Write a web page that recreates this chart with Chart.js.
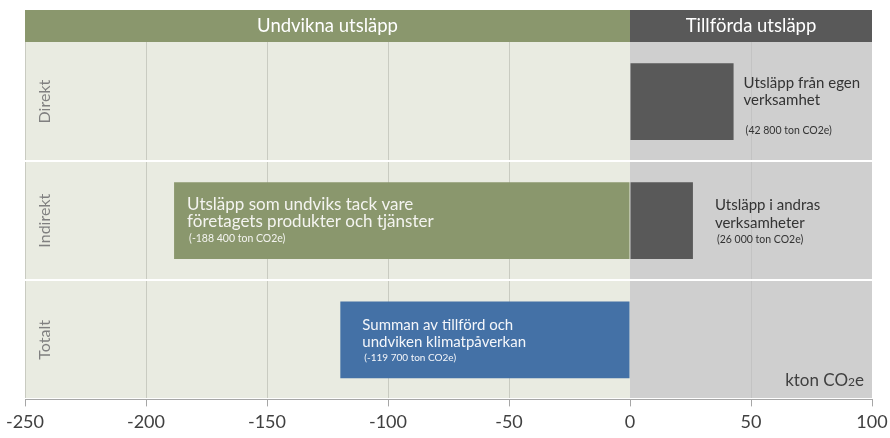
<!DOCTYPE html>
<html>
<head>
<meta charset="utf-8">
<script src="https://cdn.jsdelivr.net/npm/chart.js@4"></script>
<style>
  html, body { margin: 0; padding: 0; background: #ffffff; }
  #wrap { width: 890px; height: 438px; }
</style>
</head>
<body>
<div id="wrap"><canvas id="chart"></canvas></div>
<script>
// rows and values (kton CO2e)
const rows = ['Direkt', 'Indirekt', 'Totalt'];
const avoided = [null, -188.4, null];
const added = [42.8, 26.0, null];
const total = [null, null, -119.7];

const xMin = -250;
const xMax = 100;
const xStep = 50;

const headers = ['Undvikna utsläpp', 'Tillförda utsläpp'];
const unitLabel = ['kton CO', '2', 'e'];

const avoidedNote = ['Utsläpp som undviks tack vare', 'företagets produkter och tjänster'];
const avoidedValue = '(-188 400 ton CO2e)';
const addedNotes = [['Utsläpp från egen', 'verksamhet'], ['Utsläpp i andras', 'verksamheter']];
const addedValues = ['(42 800 ton CO2e)', '(26 000 ton CO2e)'];
const totalNote = ['Summan av tillförd och', 'undviken klimatpåverkan'];
const totalValue = '(-119 700 ton CO2e)';

const FONT = 'Lato, "Open Sans", sans-serif';
const GREEN = '#8a976d';
const DARK = '#595959';
const BLUE = '#4471a6';

const backdrop = {
    id: 'backdrop',
    beforeDraw(chart) {
        const ctx = chart.ctx;
        const area = chart.chartArea;
        const x = chart.scales.x;
        const zero = x.getPixelForValue(0);
        ctx.save();
        ctx.fillStyle = '#e9ebe1';
        ctx.fillRect(area.left, area.top, zero - area.left, area.bottom - area.top);
        ctx.fillStyle = '#cfcfcf';
        ctx.fillRect(zero, area.top, area.right - zero, area.bottom - area.top);

        // header band
        const hTop = area.top - 32;
        ctx.fillStyle = GREEN;
        ctx.fillRect(area.left, hTop, zero - area.left, 32);
        ctx.fillStyle = DARK;
        ctx.fillRect(zero, hTop, area.right - zero, 32);
        ctx.fillStyle = '#ffffff';
        ctx.font = '18.5px ' + FONT;
        ctx.textAlign = 'center';
        ctx.textBaseline = 'middle';
        ctx.fillText(headers[0], (area.left + zero) / 2, hTop + 16);
        ctx.fillText(headers[1], (zero + area.right) / 2, hTop + 16);
        ctx.restore();
    }
};

const notes = {
    id: 'notes',
    afterDatasetsDraw(chart) {
        const ctx = chart.ctx;
        const area = chart.chartArea;
        const y = chart.scales.y;
        ctx.save();
        ctx.textBaseline = 'middle';
        ctx.textAlign = 'left';

        // row labels, rotated
        ctx.fillStyle = '#808080';
        ctx.font = '16px ' + FONT;
        rows.forEach((r, i) => {
            ctx.save();
            ctx.translate(area.left + 20, y.getPixelForValue(i));
            ctx.rotate(-Math.PI / 2);
            ctx.textAlign = 'center';
            ctx.fillText(r, 0, 0);
            ctx.restore();
        });

        function block(lines, value, x, cy, offs, color, size, vsize) {
            ctx.fillStyle = color;
            ctx.font = size + 'px ' + FONT;
            lines.forEach((l, k) => ctx.fillText(l, x, cy + offs[k]));
            ctx.font = vsize + 'px ' + FONT;
            ctx.fillText(value, x + 2, cy + offs[2]);
        }

        // avoided (green)
        const g = chart.getDatasetMeta(0).data[1];
        block(avoidedNote, avoidedValue, Math.min(g.x, g.base) + 13, g.y, [-16, 1, 18], '#f4f4f0', 17, 10.5);

        // added (dark)
        const d0 = chart.getDatasetMeta(1).data[0];
        block(addedNotes[0], addedValues[0], Math.max(d0.x, d0.base) + 10, d0.y, [-18, -1, 29], '#333333', 15, 10.5);
        const d1 = chart.getDatasetMeta(1).data[1];
        block(addedNotes[1], addedValues[1], Math.max(d1.x, d1.base) + 22, d1.y, [-16, 2, 19], '#333333', 15, 10.5);

        // total (blue)
        const t = chart.getDatasetMeta(2).data[2];
        block(totalNote, totalValue, Math.min(t.x, t.base) + 22, t.y, [-15, 2, 18], '#f4f6fa', 15, 10);

        // unit label, right aligned
        ctx.fillStyle = '#404040';
        ctx.textBaseline = 'alphabetic';
        const uy = area.bottom - 13;
        ctx.font = '17px ' + FONT;
        const w0 = ctx.measureText(unitLabel[0]).width;
        const w2 = ctx.measureText(unitLabel[2]).width;
        ctx.font = '12px ' + FONT;
        const w1 = ctx.measureText(unitLabel[1]).width;
        let ux = area.right - 8 - (w0 + w1 + w2);
        ctx.font = '17px ' + FONT;
        ctx.fillText(unitLabel[0], ux, uy);
        ux += w0;
        ctx.font = '12px ' + FONT;
        ctx.fillText(unitLabel[1], ux, uy);
        ux += w1;
        ctx.font = '17px ' + FONT;
        ctx.fillText(unitLabel[2], ux, uy);
        ctx.restore();
    }
};

const chart = new Chart(document.getElementById('chart'), {
    type: 'bar',
    data: {
        labels: rows,
        datasets: [
            { label: 'Undvikna', data: avoided, backgroundColor: GREEN },
            { label: 'Tillförda', data: added, backgroundColor: DARK },
            { label: 'Totalt', data: total, backgroundColor: BLUE }
        ]
    },
    options: {
        indexAxis: 'y',
        responsive: true,
        maintainAspectRatio: false,
        animation: false,
        layout: { padding: { top: 42, left: 25, right: 18, bottom: 0 } },
        datasets: {
            bar: { categoryPercentage: 1, barPercentage: 0.645 }
        },
        plugins: {
            legend: { display: false },
            tooltip: { enabled: false }
        },
        scales: {
            x: {
                min: xMin,
                max: xMax,
                stacked: true,
                afterFit(scale) {
                    // keep the plot edges where the layout padding puts them
                    scale.paddingLeft = 0;
                    scale.paddingRight = 0;
                },
                ticks: {
                    stepSize: xStep,
                    color: '#404040',
                    font: { family: FONT, size: 18 },
                    padding: 5
                },
                grid: {
                    color: (c) => {
                        const v = c.tick ? c.tick.value : null;
                        if (v === 0 || v === xMax) return 'rgba(0,0,0,0)';
                        return v > 0 ? '#c3c3c3' : '#c9cbc1';
                    },
                    tickColor: '#a6a6a6',
                    tickLength: 7,
                    lineWidth: 1
                },
                border: { color: '#a6a6a6' }
            },
            y: {
                stacked: true,
                ticks: { display: false },
                grid: {
                    color: (c) => (c.index === 0 || c.index === rows.length) ? 'rgba(0,0,0,0)' : '#ffffff',
                    lineWidth: 2,
                    drawTicks: false
                },
                border: { display: false }
            }
        }
    },
    plugins: [backdrop, notes]
});
</script>
</body>
</html>
